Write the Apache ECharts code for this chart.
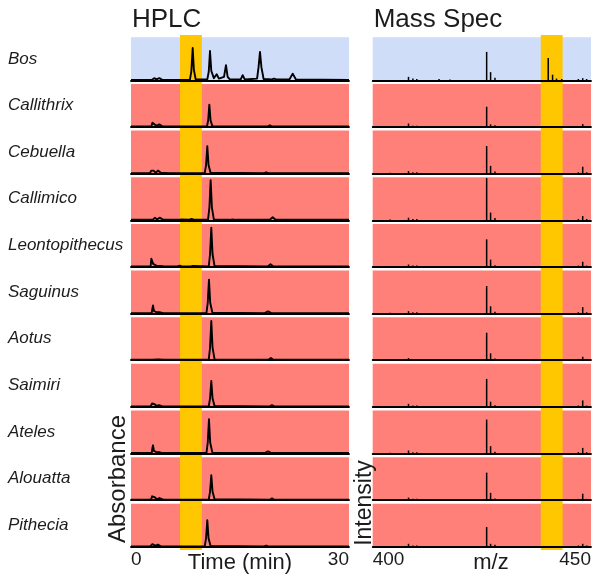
<!DOCTYPE html>
<html>
<head>
<meta charset="utf-8">
<script src="https://cdn.jsdelivr.net/npm/echarts@6/dist/echarts.min.js"></script>
<style>html,body{margin:0;padding:0;background:#fff}#c{width:600px;height:584px}</style>
</head>
<body>
<div id="c"></div>
<script>
// ---------- DATA ----------
const species = ['Bos','Callithrix','Cebuella','Callimico','Leontopithecus','Saguinus','Aotus','Saimiri','Ateles','Alouatta','Pithecia'];
const panelTitles = ['HPLC', 'Mass Spec'];
const hplcRange = [0, 30];
const msRange = [400, 450];
const hplcTickStep = 30;
const msTickStep = 50;
const hplcWindow = [6.75, 9.75];
const msWindow = [438.5, 443.5];

// HPLC traces: [time (min), absorbance (relative)]
const hplcBos = [[0,0.01],[2.9,0.01],[3.2,0.05],[3.5,0.02],[3.9,0.05],[4.3,0.01],[8.1,0.01],[8.3,0.2],[8.49,0.75],[8.65,0.25],[8.9,0.02],[10.5,0.02],[10.7,0.2],[10.87,0.68],[11.05,0.22],[11.4,0.05],[11.79,0.14],[12.1,0.04],[12.8,0.08],[13.07,0.35],[13.3,0.08],[13.6,0.02],[15.1,0.02],[15.37,0.12],[15.65,0.02],[17.35,0.04],[17.55,0.3],[17.75,0.66],[17.95,0.3],[18.25,0.03],[19.4,0.02],[19.68,0.04],[20,0.02],[21.8,0.02],[22.25,0.155],[22.7,0.02],[30,0.01]];
const hplcCallithrix = [[0,0.01],[2.8,0.01],[2.95,0.1],[3.07,0.14],[3.3,0.05],[3.6,0.03],[3.9,0.06],[4.08,0.07],[4.35,0.01],[10.45,0.01],[10.62,0.15],[10.78,0.52],[10.95,0.15],[11.2,0.02],[18.8,0.01],[19.1,0.04],[19.4,0.01],[30,0.01]];
const hplcCebuella = [[0,0.01],[2.6,0.01],[2.8,0.07],[2.93,0.08],[3.1,0.07],[3.4,0.02],[3.7,0.07],[3.85,0.08],[4.1,0.02],[5.2,0.01],[5.4,0.025],[5.6,0.01],[10.15,0.01],[10.33,0.2],[10.5,0.64],[10.67,0.2],[10.95,0.02],[18.3,0.01],[18.6,0.03],[18.9,0.01],[30,0.01]];
const hplcCallimico = [[0,0.01],[3.0,0.01],[3.3,0.06],[3.6,0.02],[3.95,0.06],[4.2,0.06],[4.45,0.01],[6.6,0.01],[6.9,0.02],[8.0,0.015],[8.35,0.03],[8.7,0.01],[10.6,0.01],[10.79,0.3],[10.96,0.93],[11.13,0.3],[11.4,0.02],[13.5,0.01],[14.0,0.02],[14.4,0.01],[19.1,0.01],[19.5,0.07],[19.9,0.01],[30,0.01]];
const hplcLeontopithecus = [[0,0.01],[2.7,0.01],[2.8,0.19],[2.98,0.19],[3.05,0.07],[3.3,0.05],[3.6,0.02],[4.1,0.02],[4.3,0.05],[4.55,0.01],[6.4,0.01],[6.7,0.03],[7.0,0.01],[8.2,0.01],[8.53,0.025],[8.8,0.01],[10.7,0.01],[10.88,0.3],[11.05,0.91],[11.22,0.3],[11.5,0.02],[18.8,0.01],[19.2,0.06],[19.6,0.01],[30,0.01]];
const hplcSaguinus = [[0,0.01],[2.85,0.01],[2.95,0.12],[3.03,0.19],[3.15,0.06],[3.5,0.03],[3.9,0.03],[4.17,0.05],[4.45,0.01],[10.38,0.01],[10.56,0.25],[10.73,0.79],[10.9,0.25],[11.2,0.02],[18.4,0.01],[18.85,0.05],[19.3,0.01],[30,0.01]];
const hplcAotus = [[0,0.01],[3.0,0.01],[3.26,0.05],[3.55,0.02],[3.9,0.02],[4.17,0.05],[4.45,0.01],[6.1,0.01],[6.3,0.02],[6.5,0.01],[8.0,0.01],[8.2,0.025],[8.4,0.01],[10.7,0.01],[10.88,0.3],[11.05,0.91],[11.22,0.3],[11.5,0.02],[13.8,0.01],[14.0,0.02],[14.2,0.01],[18.9,0.01],[19.25,0.05],[19.6,0.01],[30,0.01]];
const hplcSaimiri = [[0,0.01],[2.7,0.01],[2.9,0.08],[3.03,0.1],[3.25,0.06],[3.55,0.02],[3.85,0.04],[4.08,0.05],[4.35,0.01],[6.1,0.01],[6.3,0.02],[6.5,0.01],[7.6,0.01],[7.8,0.02],[8.0,0.01],[10.7,0.01],[10.88,0.2],[11.05,0.6],[11.22,0.2],[11.5,0.02],[19.1,0.01],[19.4,0.04],[19.7,0.01],[30,0.01]];
const hplcAteles = [[0,0.01],[2.85,0.01],[2.95,0.13],[3.03,0.19],[3.15,0.06],[3.5,0.03],[3.85,0.03],[4.08,0.05],[4.35,0.01],[7.6,0.01],[7.85,0.02],[8.1,0.01],[10.38,0.01],[10.56,0.25],[10.73,0.8],[10.9,0.25],[11.2,0.02],[18.4,0.01],[18.85,0.05],[19.3,0.01],[30,0.01]];
const hplcAlouatta = [[0,0.01],[2.75,0.01],[2.9,0.09],[3.03,0.12],[3.25,0.07],[3.55,0.02],[3.9,0.05],[4.17,0.07],[4.45,0.01],[6.0,0.01],[6.2,0.02],[6.4,0.01],[10.7,0.01],[10.88,0.2],[11.05,0.58],[11.22,0.2],[11.5,0.02],[19.1,0.01],[19.4,0.04],[19.7,0.01],[30,0.01]];
const hplcPithecia = [[0,0.01],[2.65,0.01],[2.8,0.05],[2.93,0.06],[3.1,0.05],[3.4,0.02],[3.7,0.05],[3.85,0.06],[4.1,0.01],[6.1,0.01],[6.3,0.02],[6.5,0.01],[10.15,0.01],[10.33,0.2],[10.5,0.62],[10.67,0.2],[10.95,0.02],[18.3,0.01],[18.6,0.03],[18.9,0.01],[30,0.01]];

// Mass spectra: [m/z, intensity (relative)]
const msBos = [[408.2,0.08],[409.2,0.04],[410.1,0.03],[415.2,0.03],[417.7,0.02],[426.1,0.66],[427.0,0.19],[428.0,0.06],[440.2,0.52],[441.2,0.13],[442.1,0.04],[443.3,0.03],[447.1,0.03],[448.1,0.05],[449.0,0.03]];
const msCallithrix = [[404.0,0.02],[408.2,0.08],[409.2,0.03],[410.1,0.03],[426.1,0.47],[427.0,0.06],[428.0,0.04],[447.1,0.02],[448.1,0.07],[449.0,0.02]];
const msCebuella = [[404.0,0.02],[408.2,0.06],[409.2,0.03],[410.1,0.03],[426.1,0.64],[427.0,0.18],[428.0,0.05],[447.1,0.03],[448.1,0.16],[449.0,0.03]];
const msCallimico = [[404.0,0.02],[408.2,0.06],[409.2,0.03],[410.1,0.03],[426.1,0.98],[427.0,0.18],[428.0,0.05],[447.1,0.03],[448.1,0.10],[449.0,0.03]];
const msLeontopithecus = [[404.0,0.02],[408.2,0.055],[409.2,0.03],[410.1,0.03],[426.1,0.64],[427.0,0.17],[428.0,0.04],[447.1,0.03],[448.1,0.12],[449.0,0.03]];
const msSaguinus = [[404.0,0.02],[408.2,0.055],[409.2,0.03],[410.1,0.03],[426.1,0.64],[427.0,0.17],[428.0,0.04],[447.1,0.03],[448.1,0.15],[449.0,0.03]];
const msAotus = [[404.0,0.02],[408.2,0.05],[409.2,0.03],[410.1,0.03],[426.1,0.64],[427.0,0.16],[428.0,0.04],[447.1,0.03],[448.1,0.08],[449.0,0.03]];
const msSaimiri = [[404.0,0.02],[408.2,0.07],[409.2,0.03],[410.1,0.03],[426.1,0.65],[427.0,0.12],[428.0,0.04],[447.1,0.03],[448.1,0.15],[449.0,0.03]];
const msAteles = [[404.0,0.02],[408.2,0.07],[409.2,0.03],[410.1,0.03],[426.1,0.79],[427.0,0.17],[428.0,0.04],[447.1,0.03],[448.1,0.13],[449.0,0.03]];
const msAlouatta = [[404.0,0.02],[408.2,0.06],[409.2,0.03],[410.1,0.03],[426.1,0.64],[427.0,0.17],[428.0,0.04],[447.1,0.03],[448.1,0.15],[449.0,0.03]];
const msPithecia = [[404.0,0.02],[408.2,0.07],[409.2,0.03],[410.1,0.03],[426.1,0.46],[427.0,0.07],[428.0,0.05],[447.1,0.03],[448.1,0.07],[449.0,0.03]];

const hplcTraces = [hplcBos,hplcCallithrix,hplcCebuella,hplcCallimico,hplcLeontopithecus,hplcSaguinus,hplcAotus,hplcSaimiri,hplcAteles,hplcAlouatta,hplcPithecia];
const msSpectra = [msBos,msCallithrix,msCebuella,msCallimico,msLeontopithecus,msSaguinus,msAotus,msSaimiri,msAteles,msAlouatta,msPithecia];

// ---------- LAYOUT / STYLE ----------
const FONT = '"Liberation Sans", Helvetica, Arial, sans-serif';
const TXT = '#1c1c1c';
const ROW_TOP = 37.3, ROW_PITCH = 46.65, ROW_H = 43;
const BLUE = '#CFDDF9', RED = '#FF8079', YELLOW = '#FFC700';
const panels = [
  {left: 131, width: 218, range: hplcRange, step: hplcTickStep, win: hplcWindow},
  {left: 372.7, width: 218.3, range: msRange, step: msTickStep, win: msWindow}
];

const grid = [], xAxis = [], yAxis = [], series = [];
const n = species.length;
for (let p = 0; p < 2; p++) {
  const P = panels[p];
  for (let i = 0; i < n; i++) {
    const idx = grid.length;
    const bottomRow = i === n - 1;
    grid.push({left: P.left, width: P.width, top: ROW_TOP + ROW_PITCH * i, height: ROW_H,
      show: true, backgroundColor: i === 0 ? BLUE : RED, borderWidth: 0, z: 0});
    xAxis.push({type: 'value', gridIndex: idx, min: P.range[0], max: P.range[1], interval: P.step,
      z: 3,
      axisLine: {show: true, onZero: false, lineStyle: {color: '#000', width: 1.8}},
      axisTick: {show: false}, splitLine: {show: false},
      axisLabel: {show: bottomRow, fontSize: 19, color: TXT, fontFamily: FONT, margin: 3,
        alignMinLabel: 'left', alignMaxLabel: 'right'}});
    yAxis.push({type: 'value', gridIndex: idx, min: 0, max: 1, show: false});
    if (p === 0) {
      series.push({type: 'line', xAxisIndex: idx, yAxisIndex: idx, data: hplcTraces[i],
        symbol: 'none', clip: false, z: 5, silent: true,
        lineStyle: {color: '#000', width: 1.9, join: 'round'}});
    } else {
      series.push({type: 'bar', xAxisIndex: idx, yAxisIndex: idx, data: msSpectra[i],
        barWidth: 1.5, z: 5, silent: true, itemStyle: {color: '#000'}});
    }
  }
}
// overlay grids for the highlighted windows (continuous yellow band)
for (let p = 0; p < 2; p++) {
  const P = panels[p];
  const idx = grid.length;
  grid.push({left: P.left, width: P.width, top: 35, height: 515, show: false});
  xAxis.push({type: 'value', gridIndex: idx, min: P.range[0], max: P.range[1], show: false});
  yAxis.push({type: 'value', gridIndex: idx, min: 0, max: 1, show: false});
  series.push({type: 'line', xAxisIndex: idx, yAxisIndex: idx, data: [[P.win[0], 0]],
    symbol: 'none', lineStyle: {opacity: 0}, z: 1, silent: true,
    markArea: {silent: true, z: 1, itemStyle: {color: YELLOW, opacity: 1, borderWidth: 0},
      data: [[{xAxis: P.win[0]}, {xAxis: P.win[1]}]]}});
}

const graphic = [];
panelTitles.forEach((t, p) => {
  graphic.push({type: 'text', x: panels[p].left + 1, y: 20, z: 10,
    style: {text: t, fontSize: 26, fontFamily: FONT, fill: TXT, textAlign: 'left', textVerticalAlign: 'middle'}});
});
species.forEach((s, i) => {
  graphic.push({type: 'text', x: 8, y: ROW_TOP + ROW_PITCH * i + ROW_H / 2, z: 10,
    style: {text: s, fontSize: 17, fontStyle: 'italic', fontFamily: FONT, fill: TXT,
      textAlign: 'left', textVerticalAlign: 'middle'}});
});
graphic.push({type: 'text', x: 118, y: 479, rotation: Math.PI / 2, z: 10,
  style: {text: 'Absorbance', fontSize: 24, fontFamily: FONT, fill: TXT, textAlign: 'center', textVerticalAlign: 'middle'}});
graphic.push({type: 'text', x: 365, y: 503, rotation: Math.PI / 2, z: 10,
  style: {text: 'Intensity', fontSize: 23, fontFamily: FONT, fill: TXT, textAlign: 'center', textVerticalAlign: 'middle'}});
graphic.push({type: 'text', x: 240, y: 563, z: 10,
  style: {text: 'Time (min)', fontSize: 22, fontFamily: FONT, fill: TXT, textAlign: 'center', textVerticalAlign: 'middle'}});
graphic.push({type: 'text', x: 491, y: 563, z: 10,
  style: {text: 'm/z', fontSize: 22, fontFamily: FONT, fill: TXT, textAlign: 'center', textVerticalAlign: 'middle'}});

const chart = echarts.init(document.getElementById('c'), null, {renderer: 'canvas'});
chart.setOption({animation: false, backgroundColor: '#fff', grid, xAxis, yAxis, series, graphic});
</script>
</body>
</html>
